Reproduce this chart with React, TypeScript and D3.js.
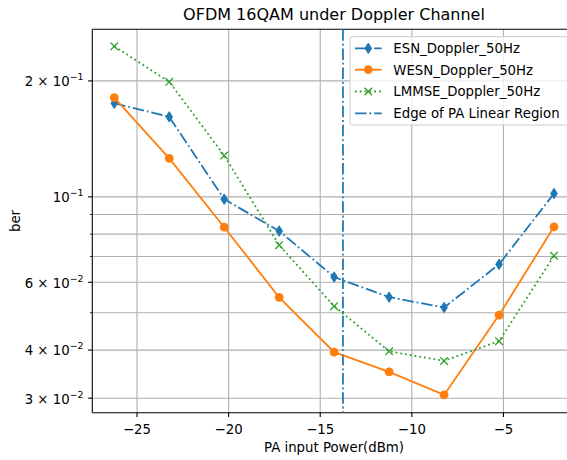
import React from 'react'
import * as d3 from 'd3'

// PA input power (dBm) and BER per receiver
const power = [-26.24, -23.24, -20.24, -17.24, -14.24, -11.24, -8.24, -5.24, -2.24]
const esn = [0.175, 0.1613, 0.0986, 0.0815, 0.0619, 0.0549, 0.0516, 0.0668, 0.102]
const wesn = [0.181, 0.1258, 0.0834, 0.0548, 0.0395, 0.0351, 0.0306, 0.0493, 0.0836]
const lmmse = [0.246, 0.1989, 0.128, 0.0749, 0.052, 0.0397, 0.0375, 0.0422, 0.0703]
const paEdge = -13.76

const xTicks = [-25, -20, -15, -10, -5]
const yMajor = [0.2, 0.1, 0.06, 0.04, 0.03]
const yMajorLabels = [['2 × 10', '−1'], ['10', '−1'], ['6 × 10', '−2'], ['4 × 10', '−2'], ['3 × 10', '−2']]
const yMinor = [0.09, 0.08, 0.07, 0.05]

const series = [
  {name: 'ESN_Doppler_50Hz', values: esn, color: '#1f77b4', dash: '11.5,2.9,1.8,2.9', marker: 'diamond'},
  {name: 'WESN_Doppler_50Hz', values: wesn, color: '#ff7f0e', dash: null, marker: 'circle'},
  {name: 'LMMSE_Doppler_50Hz', values: lmmse, color: '#2ca02c', dash: '1.8,3', marker: 'x'},
]

const W = 567
const H = 460
const m = {left: 92.3, right: 576, top: 29.3, bottom: 412.7}
const font = 'DejaVu Sans, sans-serif'
const fs = 13.3

const Marker = ({type, x, y, color}) => {
  if (type === 'circle') return <circle cx={x} cy={y} r={4.4} fill={color} />
  if (type === 'diamond')
    return <path d={`M${x},${y - 5.2}L${x + 3.3},${y}L${x},${y + 5.2}L${x - 3.3},${y}Z`} fill={color} stroke={color} strokeWidth={1} />
  const s = 3.8
  return (
    <path d={`M${x - s},${y - s}L${x + s},${y + s}M${x - s},${y + s}L${x + s},${y - s}`} stroke={color} strokeWidth={1.3} fill="none" />
  )
}

const App = () => {
  const x = d3.scaleLinear().domain([-27.44, -1.04]).range([m.left, m.right])
  const y = d3.scaleLog().domain([0.02751, 0.2723]).range([m.bottom, m.top])
  const line = d3.line().x((d) => x(d[0])).y((d) => y(d[1]))

  const legendY = [48.3, 69.7, 91.5, 113.3]

  return (
    <svg width={W} height={H} style={{position: 'absolute', left: 0, top: 0}} fontFamily={font}>
      <defs>
        <clipPath id="plot">
          <rect x={m.left} y={m.top} width={m.right - m.left} height={m.bottom - m.top} />
        </clipPath>
      </defs>
      <rect width={W} height={H} fill="white" />

      {/* grid */}
      <g stroke="#b0b0b0" strokeWidth={1.1}>
        {xTicks.map((t) => (
          <line key={t} x1={x(t)} x2={x(t)} y1={m.top} y2={m.bottom} />
        ))}
        {yMajor.concat(yMinor).map((t) => (
          <line key={t} x1={m.left} x2={m.right} y1={y(t)} y2={y(t)} />
        ))}
      </g>

      {/* spines */}
      <g stroke="black" strokeWidth={1.1} fill="none">
        <line x1={m.left} x2={m.left} y1={m.top} y2={m.bottom} />
        <line x1={m.left} x2={m.right} y1={m.bottom} y2={m.bottom} />
        <line x1={m.left} x2={m.right} y1={m.top} y2={m.top} />
      </g>

      {/* x ticks */}
      {xTicks.map((t) => (
        <g key={t}>
          <line x1={x(t)} x2={x(t)} y1={m.bottom} y2={m.bottom + 4.2} stroke="black" strokeWidth={1.1} />
          <text x={x(t)} y={434} textAnchor="middle" fontSize={fs}>
            {'−' + Math.abs(t)}
          </text>
        </g>
      ))}

      {/* y ticks */}
      {yMajor.map((t, i) => (
        <g key={t}>
          <line x1={m.left - 4.2} x2={m.left} y1={y(t)} y2={y(t)} stroke="black" strokeWidth={1.1} />
          <text x={83.5} y={y(t) + 5.3} textAnchor="end" fontSize={fs}>
            {yMajorLabels[i][0]}
            <tspan dy={-6} fontSize={9.4}>
              {yMajorLabels[i][1]}
            </tspan>
          </text>
        </g>
      ))}
      {yMinor.map((t) => (
        <line key={t} x1={m.left - 2.4} x2={m.left} y1={y(t)} y2={y(t)} stroke="black" strokeWidth={0.8} />
      ))}

      {/* data */}
      <g clipPath="url(#plot)">
        <line x1={x(paEdge)} x2={x(paEdge)} y1={m.top} y2={m.bottom} stroke="#1f77b4" strokeWidth={1.8} strokeDasharray="11.5,2.9,1.8,2.9" />
        {series.map((s) => (
          <g key={s.name}>
            <path
              d={line(power.map((p, i) => [p, s.values[i]]))}
              fill="none"
              stroke={s.color}
              strokeWidth={1.8}
              strokeDasharray={s.dash || undefined}
            />
            {power.map((p, i) => (
              <Marker key={i} type={s.marker} x={x(p)} y={y(s.values[i])} color={s.color} />
            ))}
          </g>
        ))}
      </g>

      {/* legend */}
      <g>
        <rect x={350} y={36.7} width={219} height={88.3} rx={2.4} fill="white" fillOpacity={0.8} stroke="#cccccc" strokeWidth={1} />
        {series.map((s, i) => (
          <g key={s.name}>
            <line x1={355} x2={381.7} y1={legendY[i]} y2={legendY[i]} stroke={s.color} strokeWidth={1.8} strokeDasharray={s.dash || undefined} />
            <Marker type={s.marker} x={368.3} y={legendY[i]} color={s.color} />
            <text x={393.3} y={legendY[i] + 4.8} fontSize={fs}>
              {s.name}
            </text>
          </g>
        ))}
        <line x1={355} x2={381.7} y1={legendY[3]} y2={legendY[3]} stroke="#1f77b4" strokeWidth={1.8} strokeDasharray="11.5,2.9,1.8,2.9" />
        <text x={393.3} y={legendY[3] + 4.8} fontSize={fs}>
          Edge of PA Linear Region
        </text>
      </g>

      {/* labels */}
      <text x={334} y={20} textAnchor="middle" fontSize={16}>
        OFDM 16QAM under Doppler Channel
      </text>
      <text x={334} y={452} textAnchor="middle" fontSize={fs}>
        PA input Power(dBm)
      </text>
      <text transform={`translate(20,${(m.top + m.bottom) / 2}) rotate(-90)`} textAnchor="middle" fontSize={fs}>
        ber
      </text>
    </svg>
  )
}

export default App
